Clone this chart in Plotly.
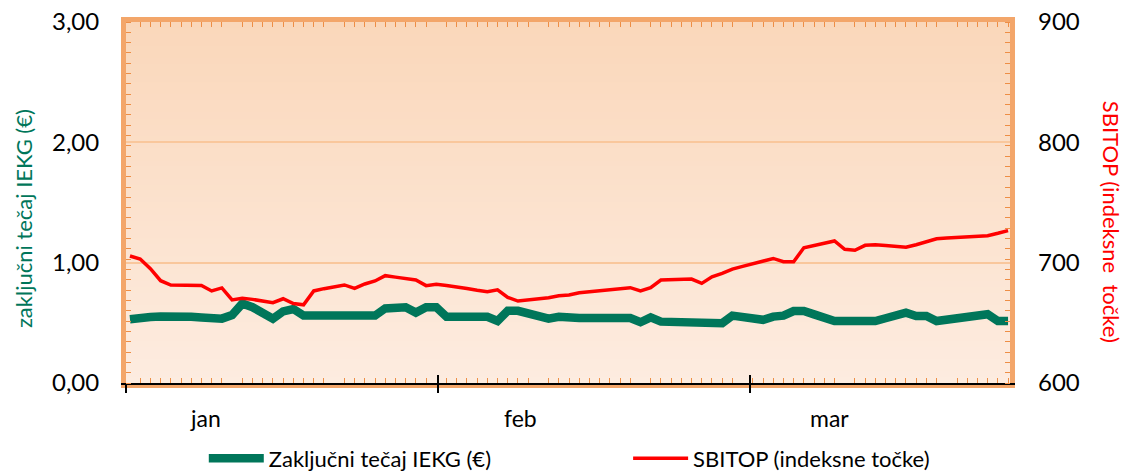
import plotly.graph_objects as go

# ---------------- data ----------------
day = list(range(87))

iekg = [0.53, 0.545, 0.548, 0.552, 0.556, 0.553, 0.55, 0.545, 0.54, 0.535,
        0.565, 0.66, 0.63, 0.58, 0.535, 0.595, 0.615, 0.56, 0.558, 0.556,
        0.554, 0.552, 0.56, 0.56, 0.56, 0.62, 0.625, 0.63, 0.585, 0.63,
        0.63, 0.55, 0.55, 0.55, 0.55, 0.55, 0.515, 0.60, 0.60, 0.58,
        0.555, 0.535, 0.55, 0.54, 0.54, 0.54, 0.54, 0.54, 0.54, 0.54,
        0.505, 0.545, 0.51, 0.51, 0.51, 0.51, 0.497, 0.497, 0.497, 0.56,
        0.55, 0.54, 0.525, 0.552, 0.56, 0.598, 0.598, 0.57, 0.54, 0.515,
        0.515, 0.515, 0.515, 0.515, 0.538, 0.56, 0.584, 0.557, 0.557, 0.515,
        0.526, 0.537, 0.548, 0.56, 0.571, 0.515, 0.515]

sbitop = [705.5, 703, 695, 685, 681.4, 681.2, 681, 681, 676.5, 679,
          669, 670.4, 669.5, 668.3, 666.7, 670, 666, 665, 676.5, 678.4,
          680, 681.5, 678.7, 682.3, 684.8, 689.2, 688, 686.8, 685.6, 680.9,
          682, 681, 680, 678.5, 677, 675.9, 677.5, 671.2, 668.1, 669,
          670, 670.9, 672.5, 673.1, 675, 675.7, 676.4, 677.1, 677.8, 679.2,
          676.5, 679.2, 685.6, 685.9, 686.1, 686.4, 682.8, 688.3, 691.1, 694.7,
          696.9, 699, 701, 703.5, 700.8, 700.8, 712.4, 714.2, 716, 718,
          711.1, 710.3, 714.4, 714.9, 714.2, 713.5, 712.8, 714.9, 717.4, 719.9,
          720.4, 720.9, 721.4, 721.9, 722.4, 724.4, 726.6]

month_labels = ["jan", "feb", "mar"]
month_start = [-0.39, 30.17, 60.73]
month_label_pos = [7.35, 38.2, 68.56]

left_ticks = [0, 1, 2, 3]
right_ticks = [600, 700, 800, 900]

series_names = ["Zaključni tečaj IEKG (€)", "SBITOP (indeksne točke)"]
left_title = "zaključni tečaj IEKG (€)"
right_title = "SBITOP (indeksne  točke)"

# ---------------- styling ----------------
FONT = "Lato"
GREEN = "#00765A"
RED = "#FF0000"
ORANGE_LINE = "#F3A66A"
ORANGE_TICK = "#EE8E45"
GRID = "#F9C79C"
X_RANGE = [-0.39, 86.19]

fig = go.Figure()

fig.add_trace(go.Scatter(
    x=day, y=iekg, name=series_names[0], mode="lines",
    line=dict(color=GREEN, width=8.5), xaxis="x", yaxis="y",
    legend="legend"))
fig.add_trace(go.Scatter(
    x=day, y=sbitop, name=series_names[1], mode="lines",
    line=dict(color=RED, width=3.5), xaxis="x", yaxis="y2",
    legend="legend2"))
# invisible helpers so the overlay x axes (month tick marks) are drawn
for ax in ("x2", "x3"):
    fig.add_trace(go.Scatter(
        x=day, y=iekg, mode="lines", opacity=0, showlegend=False,
        hoverinfo="skip", xaxis=ax, yaxis="y"))

# gradient plot background (overlapping bands to avoid seams)
n_bands = 60
top = (250, 215, 186)
bot = (253, 236, 224)
for k in range(n_bands):
    t = (k + 0.5) / n_bands
    c = tuple(round(bot[i] + (top[i] - bot[i]) * t) for i in range(3))
    fig.add_shape(type="rect", xref="paper", yref="paper",
                  x0=0, x1=1, y0=k / n_bands,
                  y1=min(1.0, (k + 2) / n_bands),
                  line=dict(width=0), fillcolor="rgb(%d,%d,%d)" % c,
                  layer="below")

# month labels
for lab, pos in zip(month_labels, month_label_pos):
    fig.add_annotation(x=pos, xref="x", y=-0.097, yref="paper",
                       text=lab, showarrow=False, xanchor="center",
                       yanchor="middle",
                       font=dict(family=FONT, size=23, color="#000000"))

# axis titles
fig.add_annotation(x=-0.1165, xref="paper", y=0.454, yref="paper",
                   text=left_title, showarrow=False, textangle=-90,
                   xanchor="center", yanchor="middle",
                   font=dict(family=FONT, size=22, color=GREEN))
fig.add_annotation(x=1.1145, xref="paper", y=0.446, yref="paper",
                   text=right_title, showarrow=False, textangle=90,
                   xanchor="center", yanchor="middle",
                   font=dict(family=FONT, size=22, color=RED))

legend_common = dict(orientation="h", xanchor="left", y=-0.209,
                     yanchor="middle", bgcolor="rgba(0,0,0,0)",
                     font=dict(family=FONT, size=22, color="#000000"),
                     itemwidth=55)

fig.update_layout(
    width=1126, height=472,
    margin=dict(l=126, r=116, t=22, b=89, autoexpand=False),
    paper_bgcolor="white",
    plot_bgcolor="rgba(0,0,0,0)",
    separators=",.",
    font=dict(family=FONT, size=20, color="#000000"),
    showlegend=True,
    legend=dict(x=0.088, **legend_common),
    legend2=dict(x=0.568, **legend_common),
    xaxis=dict(range=X_RANGE, showgrid=False, zeroline=False,
               showticklabels=False, ticks="",
               showline=True, linecolor=ORANGE_LINE, linewidth=5,
               mirror="allticks",
               minor=dict(ticks="inside", dtick=1, tick0=0, ticklen=5,
                          tickcolor=ORANGE_TICK, tickwidth=1, showgrid=False)),
    xaxis2=dict(range=X_RANGE, overlaying="x", anchor="y", side="bottom",
                tickmode="array", tickvals=month_start, showticklabels=False,
                ticks="outside", ticklen=8, tickwidth=2, tickcolor="#000000",
                showline=True, linecolor="#000000", linewidth=2,
                showgrid=False, zeroline=False),
    xaxis3=dict(range=X_RANGE, overlaying="x", anchor="y", side="bottom",
                tickmode="array", tickvals=month_start, showticklabels=False,
                ticks="inside", ticklen=8, tickwidth=2, tickcolor="#000000",
                showline=False, showgrid=False, zeroline=False),
    yaxis=dict(range=[0, 3], tickmode="array", tickvals=left_ticks,
               tickformat=".2f", ticks="", ticklabelstandoff=17,
               showgrid=True, gridcolor=GRID, gridwidth=2, zeroline=False,
               showline=True, linecolor=ORANGE_LINE, linewidth=5,
               mirror="allticks",
               tickfont=dict(family=FONT, size=24, color="#000000"),
               minor=dict(ticks="inside", dtick=3 / 35, tick0=0, ticklen=5,
                          tickcolor=ORANGE_TICK, tickwidth=1, showgrid=False)),
    yaxis2=dict(range=[600, 900], overlaying="y", side="right",
                tickmode="array", tickvals=right_ticks, ticks="",
                ticklabelstandoff=27, showgrid=False, zeroline=False,
                showline=False,
                tickfont=dict(family=FONT, size=24, color="#000000")),
)

fig.write_html("out.html",
               config={"displayModeBar": False},
               post_script="document.body.style.margin='0';"
                           "document.body.style.padding='0';")
